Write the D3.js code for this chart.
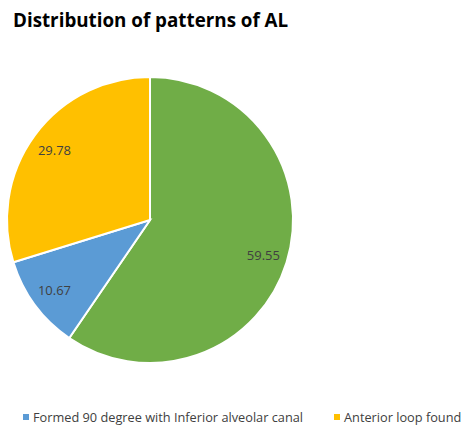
<!DOCTYPE html>
<html><head><meta charset="utf-8">
<script src="https://cdn.jsdelivr.net/npm/d3@7"></script>
<style>body{margin:0;background:#fff;} svg{display:block;}</style>
</head><body>
<script>
const title = "Distribution of patterns of AL";
const categories = ["Anterior loop not found", "Formed 90 degree with Inferior alveolar canal", "Anterior loop found"];
const values = [59.55, 10.67, 29.78];
const colors = ["#70AD47", "#5B9BD5", "#FFC000"];
const legendShown = [1, 2];

const W = 464, H = 427;
const svg = d3.select("body").append("svg").attr("width", W).attr("height", H);
const font = "'Open Sans', 'Liberation Sans', sans-serif";

svg.append("text").attr("x", 13).attr("y", 27)
  .attr("font-family", font).attr("font-weight", "bold").attr("font-size", 18.8)
  .attr("fill", "#000").text(title);

const cx = 150, cy = 220, r = 143;
const data = categories.map((c, i) => ({c, v: values[i], col: colors[i]}));
const pie = d3.pie().value(d => d.v).sort(null);
const arc = d3.arc().innerRadius(0).outerRadius(r);
const labelArc = d3.arc().innerRadius(r * 0.83).outerRadius(r * 0.83);
const g = svg.append("g").attr("transform", `translate(${cx},${cy})`);
const arcs = pie(data);
g.selectAll("path").data(arcs).join("path")
  .attr("d", arc).attr("fill", d => d.data.col)
  .attr("stroke", "#fff").attr("stroke-width", 2);
g.selectAll("text").data(arcs).join("text")
  .attr("transform", d => `translate(${labelArc.centroid(d)})`)
  .attr("text-anchor", "middle").attr("dominant-baseline", "central")
  .attr("font-family", font).attr("font-size", 13).attr("fill", "#404040")
  .text(d => d.data.v.toFixed(2));

const legendX = [23, 334];
const lg = svg.append("g");
legendShown.forEach((idx, k) => {
  lg.append("rect").attr("x", legendX[k]).attr("y", 414).attr("width", 6).attr("height", 6)
    .attr("fill", colors[idx]);
  lg.append("text").attr("x", legendX[k] + 10).attr("y", 417)
    .attr("dominant-baseline", "central")
    .attr("font-family", font).attr("font-size", 12.75).attr("fill", "#404040")
    .text(categories[idx]);
});
</script>
</body></html>
